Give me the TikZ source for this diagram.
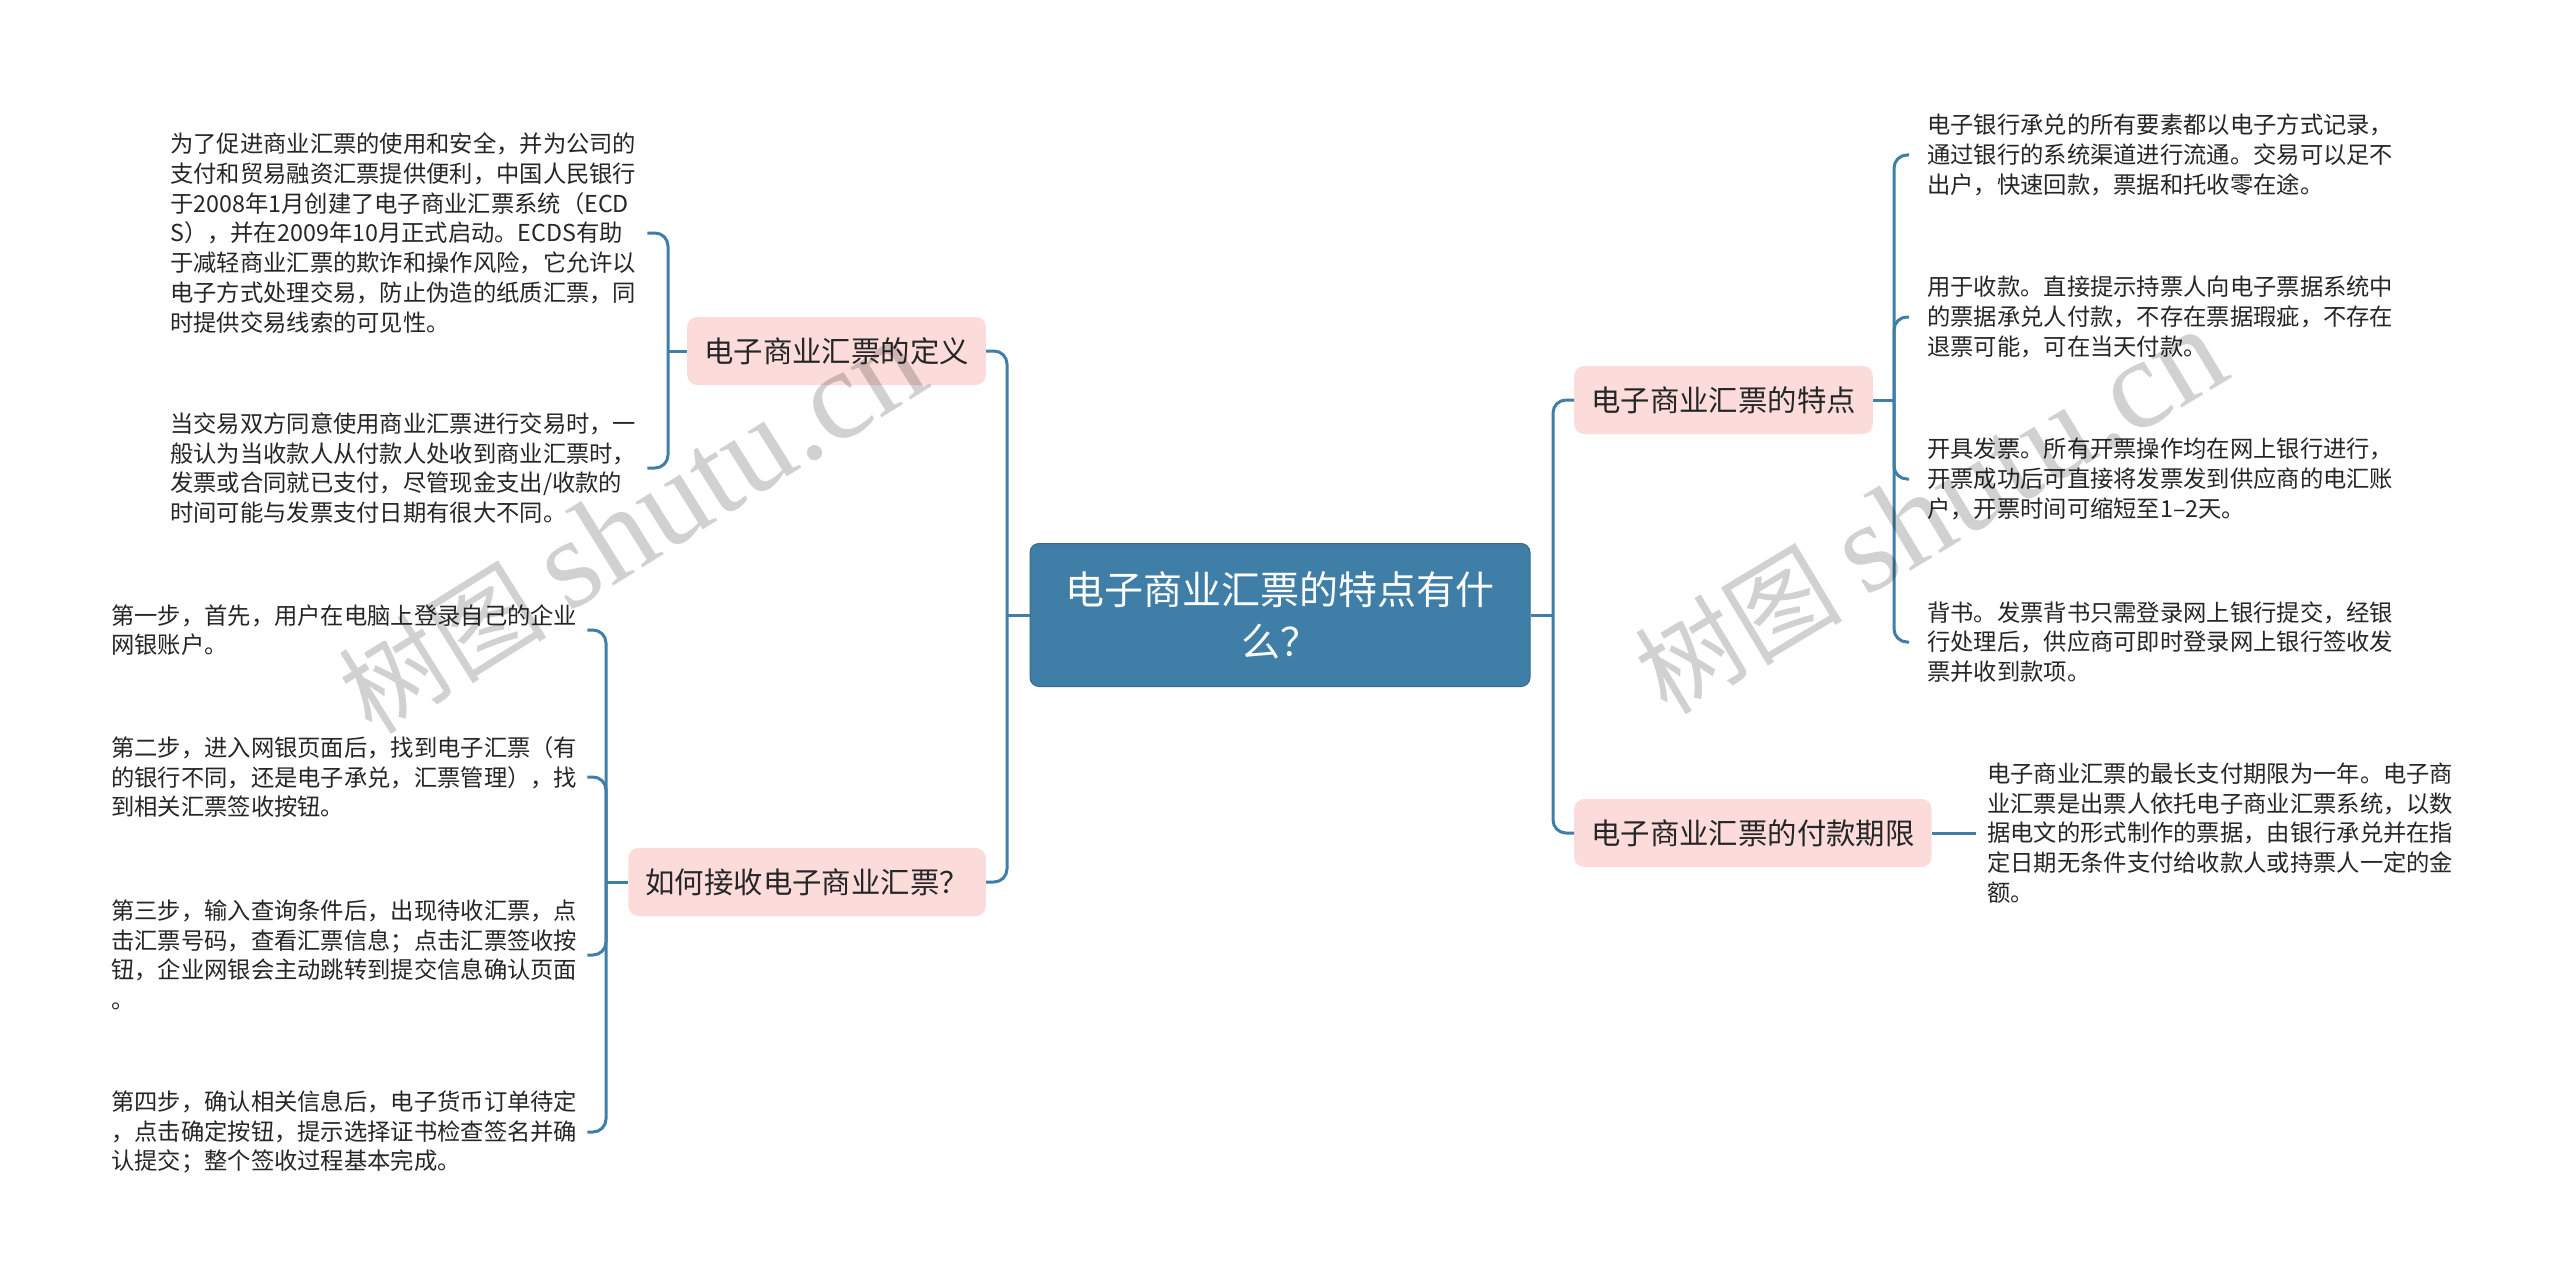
\documentclass[tikz,border=0pt]{standalone}
\usepackage{fontspec}
\usepackage{xcolor}
\usepackage{tikz}
\newfontfamily\cjk{Noto Sans CJK SC}
\newfontfamily\wmserif{Liberation Serif}
\definecolor{rootblue}{HTML}{3F7EA6}
\definecolor{branchpink}{HTML}{FBDCDB}
\colorlet{linkblue}{rootblue}
\colorlet{leafink}{black!85}
\tikzstyle{rootbox}=[fill=rootblue,draw=rootblue!85!black,line width=1pt,rounded corners=9pt,text=white,
  font=\cjk\fontsize{39}{52}\selectfont,align=center,minimum width=500pt,minimum height=143pt,inner sep=0pt]
\tikzstyle{branchbox}=[fill=branchpink,rounded corners=10pt,text=leafink,
  font=\cjk\fontsize{29.4}{36}\selectfont,minimum height=68pt,inner xsep=17pt,inner ysep=0pt]
\tikzstyle{leaftext}=[font=\cjk\fontsize{23.3}{29.7}\selectfont,text=leafink,text width=470pt,align=left,inner sep=0pt]
\tikzstyle{link}=[draw=linkblue,line width=3pt,rounded corners=13pt]
\tikzstyle{wmark}=[font=\cjk\fontsize{104}{104}\selectfont,text=black,text opacity=.18,inner sep=0pt]

\begin{document}
\begin{tikzpicture}[x=1pt,y=-1pt]
	\useasboundingbox[fill=white] (0,0) rectangle (2560,1287);
	\node[rootbox] (root) at (1280,615) {电子商业汇票的特点有什\\么？};
	% branches
	\node[branchbox,anchor=east] (def)  at (986,351) {电子商业汇票的定义};
	\node[branchbox,anchor=east] (recv) at (986,882) {如何接收电子商业汇票？};
	\node[branchbox,anchor=west] (feat) at (1574,400) {电子商业汇票的特点};
	\node[branchbox,anchor=west] (term) at (1574,833) {电子商业汇票的付款期限};
	% leaves
	\node[leaftext,anchor=west] (def1) at (170,233) {为了促进商业汇票的使用和安全，并为公司的\\支付和贸易融资汇票提供便利，中国人民银行\\于2008年1月创建了电子商业汇票系统（ECD\\S），并在2009年10月正式启动。ECDS有助\\于减轻商业汇票的欺诈和操作风险，它允许以\\电子方式处理交易，防止伪造的纸质汇票，同\\时提供交易线索的可见性。};
	\node[leaftext,anchor=west] (def2) at (170,468) {当交易双方同意使用商业汇票进行交易时，一\\般认为当收款人从付款人处收到商业汇票时，\\发票或合同就已支付，尽管现金支出/收款的\\时间可能与发票支付日期有很大不同。};
	\node[leaftext,anchor=west] (recv1) at (111,630) {第一步，首先，用户在电脑上登录自己的企业\\网银账户。};
	\node[leaftext,anchor=west] (recv2) at (111,777) {第二步，进入网银页面后，找到电子汇票（有\\的银行不同，还是电子承兑，汇票管理），找\\到相关汇票签收按钮。};
	\node[leaftext,anchor=west] (recv3) at (111,955) {第三步，输入查询条件后，出现待收汇票，点\\击汇票号码，查看汇票信息；点击汇票签收按\\钮，企业网银会主动跳转到提交信息确认页面\\。};
	\node[leaftext,anchor=west] (recv4) at (111,1132) {第四步，确认相关信息后，电子货币订单待定\\，点击确定按钮，提示选择证书检查签名并确\\认提交；整个签收过程基本完成。};
	\node[leaftext,anchor=west] (feat1) at (1927,155) {电子银行承兑的所有要素都以电子方式记录，\\通过银行的系统渠道进行流通。交易可以足不\\出户，快速回款，票据和托收零在途。};
	\node[leaftext,anchor=west] (feat2) at (1927,317) {用于收款。直接提示持票人向电子票据系统中\\的票据承兑人付款，不存在票据瑕疵，不存在\\退票可能，可在当天付款。};
	\node[leaftext,anchor=west] (feat3) at (1927,479) {开具发票。所有开票操作均在网上银行进行，\\开票成功后可直接将发票发到供应商的电汇账\\户，开票时间可缩短至1–2天。};
	\node[leaftext,anchor=west] (feat4) at (1927,642) {背书。发票背书只需登录网上银行提交，经银\\行处理后，供应商可即时登录网上银行签收发\\票并收到款项。};
	\node[leaftext,anchor=west] (term1) at (1987,833) {电子商业汇票的最长支付期限为一年。电子商\\业汇票是出票人依托电子商业汇票系统，以数\\据电文的形式制作的票据，由银行承兑并在指\\定日期无条件支付给收款人或持票人一定的金\\额。};
	% trunks
	\coordinate (lx) at (1007,615);
	\coordinate (rx) at (1553,615);
	\coordinate (defx) at (668,351);
	\coordinate (recvx) at (606,882);
	\coordinate (featx) at (1894,400);
	\draw[link] (root.west) -- (lx);
	\draw[link] (def.east) -| (lx) |- (recv.east);
	\draw[link] (root.east) -- (rx);
	\draw[link] (feat.west) -| (rx) |- (term.west);
	\draw[link] ([xshift=7pt]def1.east) -| (defx) |- ([xshift=7pt]def2.east);
	\draw[link] (defx) -- (def.west);
	\draw[link] ([xshift=6pt]recv1.east) -| (recvx) |- ([xshift=6pt]recv4.east);
	\draw[link] ([xshift=6pt]recv2.east) -| (recvx);
	\draw[link] ([xshift=6pt]recv3.east) -| (recvx);
	\draw[link] (recvx) -- (recv.west);
	\draw[link] ([xshift=-18pt]feat1.west) -| (featx) |- ([xshift=-18pt]feat4.west);
	\draw[link] ([xshift=-18pt]feat2.west) -| (featx);
	\draw[link] ([xshift=-18pt]feat3.west) -| (featx);
	\draw[link] (feat.east) -- (featx);
	\draw[link] (term.east) -- ([xshift=-11pt]term1.west);
	% watermarks
	\node[wmark,rotate=32] (wm1) at (632,527) {树图 {\wmserif\fontsize{128}{128}\selectfont shutu.cn}};
	\node[wmark,rotate=31] (wm2) at (1930,512) {树图 {\wmserif\fontsize{128}{128}\selectfont shutu.cn}};
\end{tikzpicture}
\end{document}
